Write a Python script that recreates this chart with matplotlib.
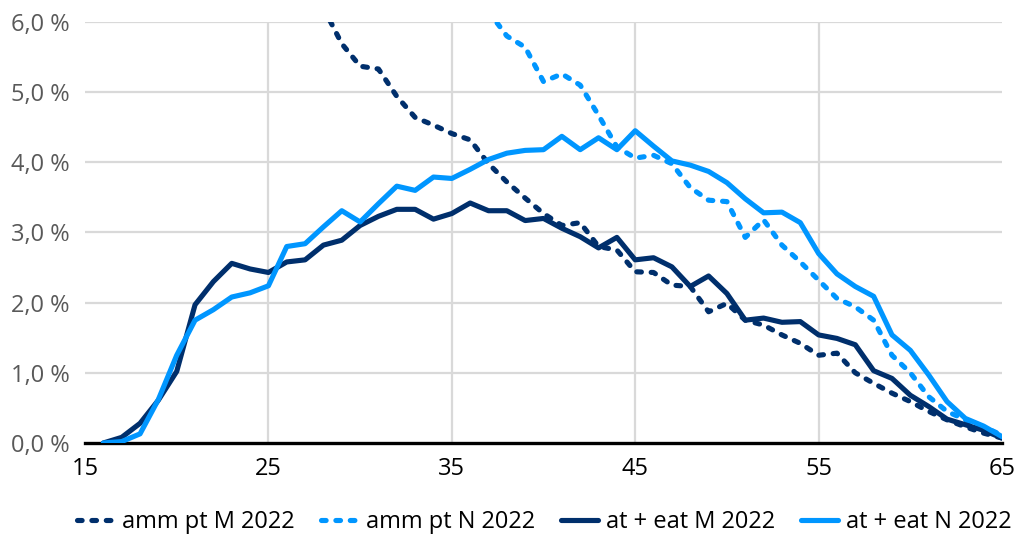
import matplotlib
matplotlib.use("Agg")
import matplotlib.pyplot as plt
import numpy as np

ages = list(range(16, 66))

# values in percent; NaN where the series lies above the 6 % frame
amm_m = [np.nan] * 12 + [
    6.20, 5.69, 5.37, 5.33, 4.94, 4.64, 4.53, 4.41, 4.32, 3.98,
    3.72, 3.49, 3.27, 3.10, 3.14, 2.80, 2.75, 2.44, 2.43, 2.25,
    2.23, 1.87, 1.99, 1.75, 1.68, 1.54, 1.42, 1.25, 1.28, 1.00,
    0.85, 0.71, 0.59, 0.45, 0.33, 0.23, 0.14, 0.07]
amm_n = [np.nan] * 21 + [
    6.15, 5.80, 5.64, 5.15, 5.26, 5.10, 4.67, 4.22, 4.06, 4.10,
    3.98, 3.64, 3.46, 3.44, 2.93, 3.18, 2.82, 2.58, 2.32, 2.06,
    1.94, 1.75, 1.25, 1.00, 0.66, 0.45, 0.33, 0.23, 0.11]
eat_m = [
    0.00, 0.08, 0.28, 0.61, 1.02, 1.97, 2.30, 2.56, 2.48, 2.43,
    2.58, 2.61, 2.82, 2.89, 3.10, 3.23, 3.33, 3.33, 3.19, 3.27,
    3.42, 3.31, 3.31, 3.17, 3.20, 3.06, 2.94, 2.78, 2.93, 2.61,
    2.64, 2.51, 2.23, 2.38, 2.13, 1.75, 1.78, 1.72, 1.73, 1.54,
    1.49, 1.40, 1.03, 0.92, 0.68, 0.52, 0.34, 0.26, 0.18, 0.07]
eat_n = [
    0.00, 0.02, 0.13, 0.62, 1.25, 1.75, 1.90, 2.08, 2.14, 2.24,
    2.80, 2.84, 3.08, 3.31, 3.15, 3.41, 3.66, 3.60, 3.79, 3.77,
    3.90, 4.04, 4.13, 4.17, 4.18, 4.37, 4.18, 4.35, 4.18, 4.45,
    4.23, 4.02, 3.96, 3.87, 3.71, 3.48, 3.28, 3.29, 3.14, 2.70,
    2.41, 2.23, 2.09, 1.54, 1.32, 0.97, 0.59, 0.35, 0.24, 0.09]

labels = ["amm pt M 2022", "amm pt N 2022", "at + eat M 2022", "at + eat N 2022"]
dark, light = "#002f6c", "#0096ff"

plt.rcParams["font.family"] = ["Open Sans", "DejaVu Sans"]

fig = plt.figure(figsize=(10.23, 5.44), dpi=100)
ax = fig.add_axes([0.0831, 0.1857, 0.8964, 0.7739])

dot = (0, (0.9, 1.9))
ax.plot(ages, amm_m, color=dark, lw=3.7, ls=dot, dash_capstyle="round", label=labels[0])
ax.plot(ages, amm_n, color=light, lw=3.7, ls=dot, dash_capstyle="round", label=labels[1])
ax.plot(ages, eat_m, color=dark, lw=3.7, solid_capstyle="round", solid_joinstyle="round", label=labels[2])
ax.plot(ages, eat_n, color=light, lw=3.7, solid_capstyle="round", solid_joinstyle="round", label=labels[3])

ax.set_xlim(15, 65)
ax.set_ylim(0, 6)
ax.set_xticks(range(15, 66, 10))
ax.set_yticks(np.arange(0, 6.01, 1))
ax.set_yticklabels([f"{v:.1f} %".replace(".", ",") for v in np.arange(0, 6.01, 1)])

ax.grid(True, color="#d9d9d9", lw=1.6)
ax.set_axisbelow(True)
xg = ax.get_xgridlines()
xg[0].set_visible(False)
xg[-1].set_visible(False)
ax.get_ygridlines()[0].set_visible(False)

for s in ("top", "right", "left"):
    ax.spines[s].set_visible(False)
ax.spines["bottom"].set_color("black")
ax.spines["bottom"].set_linewidth(2.4)
ax.spines["bottom"].set_zorder(1.5)

ax.tick_params(length=0)
ax.tick_params(axis="y", labelsize=17, labelcolor="#595959", pad=11)
ax.tick_params(axis="x", labelsize=17, labelcolor="black", pad=10)

fig.legend(loc="center", bbox_to_anchor=(0.532, 0.04), ncol=4, frameon=False,
           fontsize=17, handlelength=1.6, handletextpad=0.3, columnspacing=1.1)

fig.savefig("out.png", dpi=100)
